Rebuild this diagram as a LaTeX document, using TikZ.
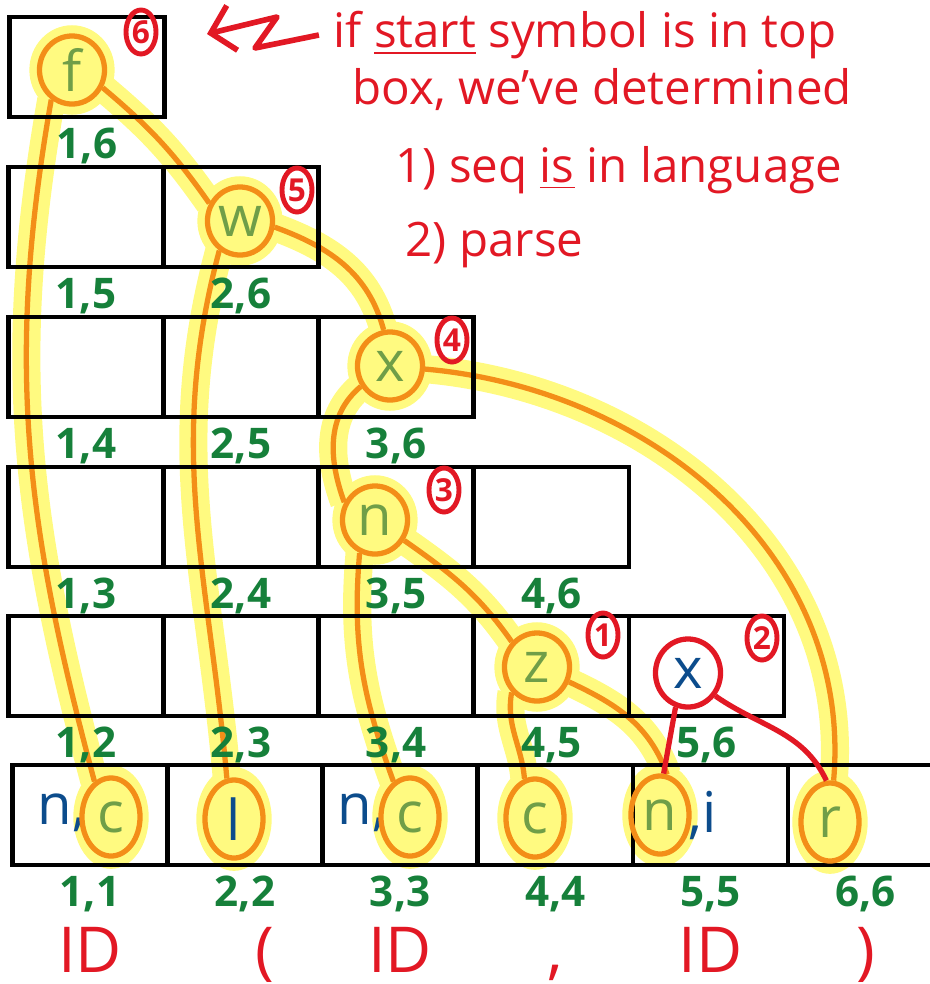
\documentclass[tikz,border=0pt]{standalone}
\usepackage{fontspec}
\setmainfont{Open Sans}
\usepackage{xcolor}
\usepackage{tikz}
\usetikzlibrary{arrows.meta,positioning,shapes.geometric,fit,backgrounds}
\definecolor{pen}{RGB}{226,24,36}
\definecolor{leaf}{RGB}{22,128,58}
\definecolor{ink}{RGB}{12,76,140}
\definecolor{moss}{RGB}{112,158,72}
\definecolor{orng}{RGB}{243,142,24}
\definecolor{hl}{RGB}{255,250,128}

\begin{document}
\begin{tikzpicture}[
    x=0.01cm, y=-0.01cm,
    node distance=0pt,
    cell/.style={draw, line width=1.3pt, minimum width=1.55cm, minimum height=1cm, outer sep=0pt, inner sep=0pt},
    idx/.style={text=leaf, font=\fontsize{12}{12}\selectfont\bfseries, inner sep=1pt},
    tok/.style={text=pen, font=\fontsize{18}{18}\selectfont, inner sep=1pt, text height=0.46cm, text depth=0.05cm},
    sym/.style={text=ink, font=\fontsize{16}{16}\selectfont, inner sep=1pt},
    pick/.style={ellipse, draw=orng, line width=1.5pt, text=moss, font=\fontsize{16}{16}\selectfont, inner sep=0pt, minimum width=0.65cm, minimum height=0.68cm},
    tall/.style={minimum width=0.58cm, minimum height=0.78cm},
    order/.style={ellipse, draw=pen, line width=1.4pt, text=pen, font=\small\bfseries, inner sep=0pt, minimum width=0.3cm, minimum height=0.44cm},
    note/.style={text=pen, font=\fontsize{13.5}{16}\selectfont, anchor=west, inner sep=0pt},
    halo/.style={ellipse, fill=hl, inner sep=-0.05cm},
    trace/.style={draw=orng, line width=1.5pt, preaction={draw=hl, line width=8pt}},
    redline/.style={draw=pen, line width=1.5pt},
    arrow/.style={-{Straight Barb[length=2.2mm,width=4.6mm]}, draw=pen, line width=1.6pt, line join=round}
]
\useasboundingbox (0,0) rectangle (930,984);

\node[cell] (b16) at (87,67) {};
\node[cell] (b15) at (86,217) {};
\node[cell, right=of b15] (b26) {};
\node[cell] (b14) at (86,367) {};
\node[cell, right=of b14] (b25) {};
\node[cell, right=of b25] (b36) {};
\node[cell] (b13) at (86,517) {};
\node[cell, right=of b13] (b24) {};
\node[cell, right=of b24] (b35) {};
\node[cell, right=of b35] (b46) {};
\node[cell] (b12) at (86,666) {};
\node[cell, right=of b12] (b23) {};
\node[cell, right=of b23] (b34) {};
\node[cell, right=of b34] (b45) {};
\node[cell, right=of b45] (b56) {};
\node[cell] (b11) at (90,815) {};
\node[cell, right=of b11] (b22) {};
\node[cell, right=of b22] (b33) {};
\node[cell, right=of b33] (b44) {};
\node[cell, right=of b44] (b55) {};
\node[cell, right=of b55] (b66) {};

\node[idx, below=2pt of b16] (p16) {1,6};
\node[idx, below=2pt of b15] (p15) {1,5};
\node[idx, below=2pt of b26] (p26) {2,6};
\node[idx, below=2pt of b14] (p14) {1,4};
\node[idx, below=2pt of b25] (p25) {2,5};
\node[idx, below=2pt of b36] (p36) {3,6};
\node[idx, below=2pt of b13] (p13) {1,3};
\node[idx, below=2pt of b24] (p24) {2,4};
\node[idx, below=2pt of b35] (p35) {3,5};
\node[idx, below=2pt of b46] (p46) {4,6};
\node[idx, below=2pt of b12] (p12) {1,2};
\node[idx, below=2pt of b23] (p23) {2,3};
\node[idx, below=2pt of b34] (p34) {3,4};
\node[idx, below=2pt of b45] (p45) {4,5};
\node[idx, below=2pt of b56] (p56) {5,6};
\node[idx, below=2pt of b11] (p11) {1,1};
\node[idx, below=2pt of b22] (p22) {2,2};
\node[idx, below=2pt of b33] (p33) {3,3};
\node[idx, below=2pt of b44] (p44) {4,4};
\node[idx, below=2pt of b55] (p55) {5,5};
\node[idx, below=2pt of b66] (p66) {6,6};

\node[tok, below=0.06cm of p11] (id1) {ID};
\node[tok, below=0.06cm of p22, xshift=0.2cm] (lpar) {(};
\node[tok, below=0.06cm of p33] (id2) {ID};
\node[tok, below=0.06cm of p44] (comma) {,};
\node[tok, below=0.06cm of p55] (id3) {ID};
\node[tok, below=0.06cm of p66] (rpar) {)};

\node[pick] (f) at (72,70) {f};
\node[pick] (w) at (240,221) {w};
\node[pick] (x) at (390,366) {x};
\node[pick] (n) at (375,520) {n};
\node[pick] (z) at (537,667) {z};
\node[pick, draw=pen, text=ink] (xr) at (688,673) {x};
\node[sym] (n1) at (62,813) {n,};
\node[pick, tall] (c1) at (111,817) {c};
\node[pick, tall, text=ink] (l) at (234,819) {l};
\node[sym] (n3) at (362,813) {n,};
\node[pick, tall] (c3) at (410,817) {c};
\node[pick, tall] (c4) at (535,818) {c};
\node[pick, tall] (n5) at (660,815) {n};
\node[sym] (i5) at (703,815) {,i};
\node[pick, tall] (r) at (830,822) {r};

\node[order] (o6) at (141,32) {6};
\node[order] (o5) at (297,190) {5};
\node[order] (o4) at (452,340) {4};
\node[order] (o3) at (444,490) {3};
\node[order] (o1) at (603,635) {1};
\node[order] (o2) at (762,638) {2};

\node[note] (t1) at (333,35) {if \underline{start} symbol is in top};
\node[note] (t2) at (352,90) {box, we've determined};
\node[note] (t3) at (395,170) {1) seq \underline{is} in language};
\node[note] (t4) at (405,245) {2) parse};
\coordinate (aim) at (207,34);
\draw[arrow] ([xshift=-4pt]t1.west) -- (255,48) -- (277,17) -- (aim);

\begin{scope}[on background layer]
\foreach \s in {f,w,x,n,z,c1,l,c3,c4,n5,r}
    \node[halo, fit=(\s)] (h\s) {};
\draw[trace] (f.235) to[out=260, in=105] (c1.115);
\draw[trace] (f.-30) to[out=-40, in=125] (w.150);
\draw[trace] (w.235) to[out=255, in=95] (l.100);
\draw[trace] (w.-10) to[out=-20, in=105] (x.100);
\draw[trace] (x.215) to[out=220, in=110] (n.150);
\draw[trace] (x.-5) to[out=-5, in=85] (r.85);
\draw[trace] (n.245) to[out=265, in=110] (c3.115);
\draw[trace] (n.-35) to[out=-35, in=125] (z.135);
\draw[trace] (z.225) to[out=260, in=95] (c4.105);
\draw[trace] (z.-25) to[out=-25, in=110] (n5.80);
\end{scope}
\draw[redline] (xr.250) -- (n5.85);
\draw[redline] (xr.-40) to[out=-35, in=115] (r.95);
\end{tikzpicture}
\end{document}
